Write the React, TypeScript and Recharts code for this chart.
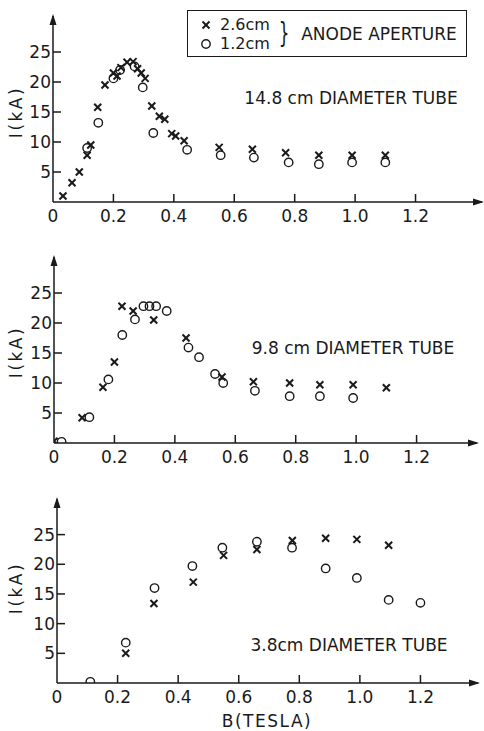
import { ScatterChart, Scatter, XAxis, YAxis, ReferenceDot } from 'recharts'

type Pt = [number, number]

// B (tesla), I (kA) — x marks: 2.6 cm anode aperture, circles: 1.2 cm
const tube148Cross: Pt[] = [
  [0.033, 1.0], [0.063, 3.2], [0.087, 5.0], [0.113, 7.8], [0.125, 9.5], [0.148, 15.8],
  [0.172, 19.5], [0.2, 21.5], [0.212, 21.0], [0.225, 22.4], [0.245, 23.3], [0.265, 23.4],
  [0.28, 22.2], [0.292, 21.5], [0.305, 20.6], [0.327, 16.0], [0.352, 14.3], [0.37, 13.8],
  [0.393, 11.4], [0.406, 11.0], [0.434, 10.2], [0.55, 9.1], [0.66, 8.8], [0.77, 8.2],
  [0.88, 7.8], [0.99, 7.8], [1.1, 7.8],
]
const tube148Circle: Pt[] = [
  [0.113, 9.0], [0.15, 13.2], [0.2, 20.6], [0.222, 22.0], [0.27, 22.6], [0.297, 19.1],
  [0.332, 11.5], [0.444, 8.7], [0.555, 7.8], [0.665, 7.4], [0.78, 6.6], [0.88, 6.3],
  [0.99, 6.6], [1.1, 6.6],
]

const tube98Cross: Pt[] = [
  [0.0, 0.3], [0.093, 4.2], [0.162, 9.3], [0.2, 13.5], [0.225, 22.8], [0.262, 22.0],
  [0.33, 20.5], [0.437, 17.5], [0.556, 11.0], [0.66, 10.2], [0.78, 10.0], [0.88, 9.7],
  [0.99, 9.7], [1.1, 9.2],
]
const tube98Circle: Pt[] = [
  [0.025, 0.2], [0.117, 4.3], [0.18, 10.6], [0.226, 18.0], [0.268, 20.6], [0.296, 22.8],
  [0.316, 22.8], [0.338, 22.8], [0.373, 22.0], [0.445, 15.9], [0.48, 14.3], [0.533, 11.5],
  [0.56, 10.0], [0.665, 8.7], [0.78, 7.8], [0.88, 7.8], [0.99, 7.5],
]

const tube38Cross: Pt[] = [
  [0.227, 5.0], [0.32, 13.4], [0.45, 17.0], [0.55, 21.5], [0.66, 22.5], [0.777, 24.0],
  [0.887, 24.4], [0.99, 24.2], [1.095, 23.2],
]
const tube38Circle: Pt[] = [
  [0.11, 0.2], [0.227, 6.8], [0.322, 16.0], [0.447, 19.7], [0.546, 22.8], [0.66, 23.8],
  [0.776, 22.8], [0.887, 19.3], [0.99, 17.7], [1.095, 14.0], [1.2, 13.5],
]

const xTicks = [0, 0.2, 0.4, 0.6, 0.8, 1.0, 1.2]
const yTicks = [5, 10, 15, 20, 25]

const INK = '#1a1a1a'
const FONT = '"DejaVu Sans", sans-serif'

const toRows = (pts: Pt[]) => pts.map(([b, i]) => ({ b, i }))
const fmtX = (v: number) => (v === 0 ? '0' : v.toFixed(1))

function CrossMark({ cx, cy }: any) {
  const s = 3.5
  return (
    <g stroke={INK} strokeWidth={2}>
      <line x1={cx - s} y1={cy - s} x2={cx + s} y2={cy + s} />
      <line x1={cx - s} y1={cy + s} x2={cx + s} y2={cy - s} />
    </g>
  )
}

function CircleMark({ cx, cy }: any) {
  return <circle cx={cx} cy={cy} r={4.2} fill="none" stroke={INK} strokeWidth={1.4} />
}

function XTick({ x, y, payload }: any) {
  return (
    <g>
      {payload.value !== 0 && <line x1={x} x2={x} y1={y} y2={y - 8} stroke={INK} strokeWidth={1.5} />}
      <text x={x} y={y + 20} textAnchor="middle" fontSize={17} fontFamily={FONT} fill={INK}>
        {fmtX(payload.value)}
      </text>
    </g>
  )
}

function YTick({ x, y, payload }: any) {
  return (
    <g>
      <line x1={x} x2={x + 8} y1={y} y2={y} stroke={INK} strokeWidth={1.5} />
      <text x={x - 2} y={y + 6} textAnchor="end" fontSize={17} fontFamily={FONT} fill={INK}>
        {payload.value}
      </text>
    </g>
  )
}

function ArrowRight({ cx, cy }: any) {
  return <path d={`M${cx + 2},${cy} L${cx - 9},${cy - 3.5} L${cx - 9},${cy + 3.5} Z`} fill={INK} />
}

function ArrowUp({ cx, cy }: any) {
  return <path d={`M${cx},${cy - 2} L${cx - 3.5},${cy + 9} L${cx + 3.5},${cy + 9} Z`} fill={INK} />
}

interface PanelProps {
  top: number
  height: number
  left: number
  right: number
  plotTop: number
  plotBottom: number
  xMax: number
  cross: Pt[]
  circle: Pt[]
}

function Panel({ top, height, left, right, plotTop, plotBottom, xMax, cross, circle }: PanelProps) {
  const yMax = 31
  return (
    <div style={{ position: 'absolute', left: 0, top }}>
      <ScatterChart
        width={484}
        height={height}
        margin={{ top: plotTop, right: 484 - right, left: left - 40, bottom: 0 }}
      >
        <XAxis
          type="number"
          dataKey="b"
          domain={[0, xMax]}
          ticks={xTicks}
          allowDataOverflow
          height={height - plotBottom}
          axisLine={{ stroke: INK, strokeWidth: 1.5 }}
          tickLine={false}
          tickSize={0}
          tickMargin={0}
          tick={<XTick />}
        />
        <YAxis
          type="number"
          dataKey="i"
          domain={[0, yMax]}
          ticks={yTicks}
          allowDataOverflow
          width={40}
          axisLine={{ stroke: INK, strokeWidth: 1.5 }}
          tickLine={false}
          tickSize={0}
          tickMargin={0}
          tick={<YTick />}
        />
        <ReferenceDot x={xMax} y={0} r={0} ifOverflow="visible" shape={<ArrowRight />} />
        <ReferenceDot x={0} y={yMax} r={0} ifOverflow="visible" shape={<ArrowUp />} />
        <Scatter data={toRows(cross)} shape={<CrossMark />} isAnimationActive={false} />
        <Scatter data={toRows(circle)} shape={<CircleMark />} isAnimationActive={false} />
      </ScatterChart>
    </div>
  )
}

const text = (x: number, y: number, s: string, size: number, extra: any = {}) => (
  <div
    style={{
      position: 'absolute',
      left: x,
      top: y,
      transform: 'translate(-50%, -50%)',
      fontSize: size,
      lineHeight: 1,
      whiteSpace: 'nowrap',
      ...extra,
    }}
  >
    {s}
  </div>
)

function YLabel({ y }: { y: number }) {
  return text(16, y, 'I(kA)', 17, { transform: 'translate(-50%, -50%) rotate(-90deg)', letterSpacing: 2.5 })
}

export default function App() {
  return (
    <div
      style={{
        position: 'absolute',
        left: 0,
        top: 0,
        width: 484,
        height: 731,
        background: '#fff',
        color: INK,
        fontFamily: FONT,
        overflow: 'hidden',
      }}
    >
      <Panel top={0} height={230} left={53} right={482} plotTop={16} plotBottom={202} xMax={1.42}
        cross={tube148Cross} circle={tube148Circle} />
      <Panel top={230} height={245} left={54} right={477} plotTop={27} plotBottom={213} xMax={1.4}
        cross={tube98Cross} circle={tube98Circle} />
      <Panel top={460} height={271} left={57} right={478} plotTop={39} plotBottom={223} xMax={1.39}
        cross={tube38Cross} circle={tube38Circle} />

      <YLabel y={112} />
      <YLabel y={352} />
      <YLabel y={588} />

      {text(351, 98, '14.8 cm DIAMETER TUBE', 17)}
      {text(353, 348, '9.8 cm DIAMETER TUBE', 17)}
      {text(349, 645, '3.8cm DIAMETER TUBE', 17)}
      {text(267, 721, 'B(TESLA)', 17, { letterSpacing: 1.5 })}

      <div
        style={{
          position: 'absolute',
          left: 187,
          top: 10,
          width: 280,
          height: 47,
          boxSizing: 'border-box',
          border: `1.5px solid ${INK}`,
        }}
      >
        <svg width={20} height={47} style={{ position: 'absolute', left: 8, top: 0 }}>
          <CrossMark cx={10} cy={14} />
          <CircleMark cx={10} cy={33} />
        </svg>
        {text(57, 14, '2.6cm', 16)}
        {text(57, 33, '1.2cm', 16)}
        {text(96, 23, '}', 28, { transform: 'translate(-50%, -50%) scaleX(0.6)' })}
        {text(191, 23, 'ANODE APERTURE', 17)}
      </div>
    </div>
  )
}
